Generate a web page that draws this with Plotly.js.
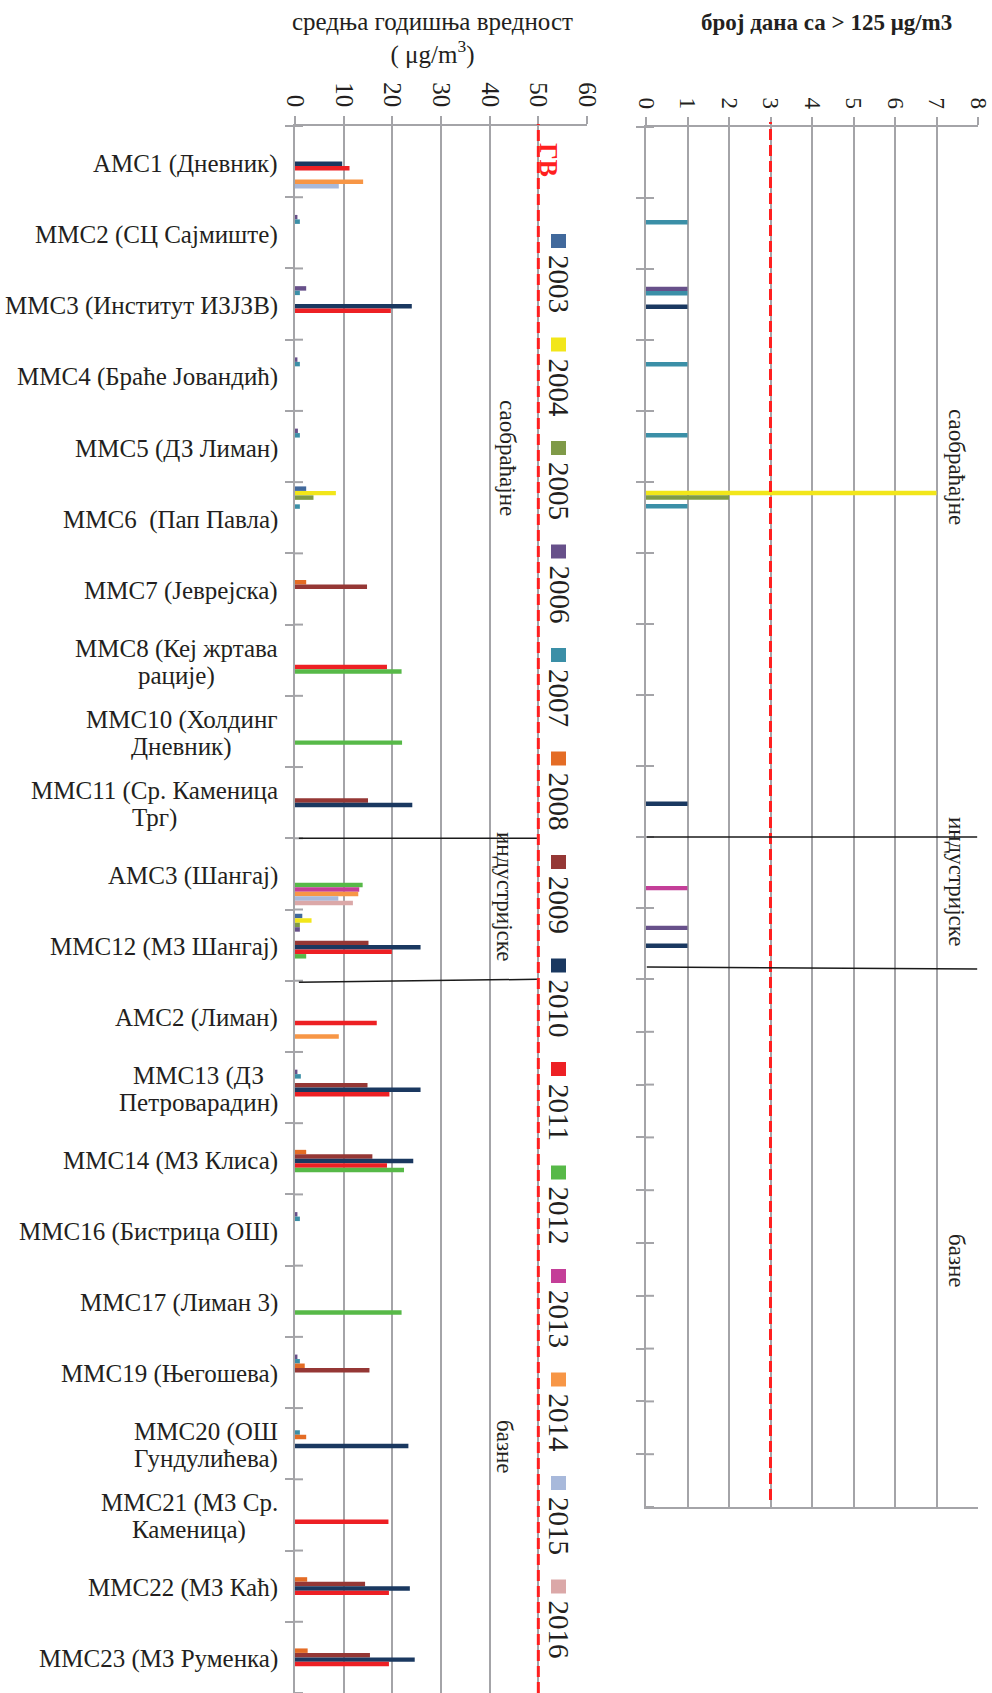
<!DOCTYPE html>
<html><head><meta charset="utf-8">
<script src="https://cdn.plot.ly/plotly-3.0.1.min.js"></script>
<style>html,body{margin:0;padding:0;background:#fff}#chart{width:992px;height:1693px}</style>
</head><body><div id="chart"></div>
<script>
// ---------------- DATA ----------------
const N = null;
const stations = [
  'АМС1 (Дневник)', 'ММС2 (СЦ Сајмиште)', 'ММС3 (Институт ИЗЈЗВ)', 'ММС4 (Браће Јовандић)',
  'ММС5 (ДЗ Лиман)', 'ММС6  (Пап Павла)', 'ММС7 (Јеврејска)', 'ММС8 (Кеј жртава<br>рације)',
  'ММС10 (Холдинг<br>Дневник)', 'ММС11 (Ср. Каменица<br>Трг)', 'АМС3 (Шангај)', 'ММС12 (МЗ Шангај)',
  'АМС2 (Лиман)', 'ММС13 (ДЗ<br>Петроварадин)', 'ММС14 (МЗ Клиса)', 'ММС16 (Бистрица ОШ)',
  'ММС17 (Лиман 3)', 'ММС19 (Његошева)', 'ММС20 (ОШ<br>Гундулићева)', 'ММС21 (МЗ Ср.<br>Каменица)',
  'ММС22 (МЗ Каћ)', 'ММС23 (МЗ Руменка)'
];
const sectionNames = ['саобраћајне', 'индустријске', 'базне'];
const sectionSizes = [10, 2, 10];
const years = ['2003','2004','2005','2006','2007','2008','2009','2010','2011','2012','2013','2014','2015','2016'];
const colors = ['#41699c','#f2e61a','#7f9a48','#67508a','#3b8fa7','#e46c25','#953735',
                '#1a3860','#ed2024','#57b948','#c43e98','#f79646','#a8b9db','#dba8a8'];
const gvMean = 50;   // гранична вредност, μg/m3
const gvDays = 3;    // дозвољен број дана > 125 μg/m3

// средња годишња вредност (μg/m3), по станицама
const mean2003 = [N,N,N,N,N,2.3,N,N,N,N,N,1.5, N,N,N,N,N,N,N,N,N,N];
const mean2004 = [N,N,N,N,N,8.4,N,N,N,N,N,3.4, N,N,N,N,N,N,N,N,N,N];
const mean2005 = [N,N,N,N,N,3.8,N,N,N,N,N,1.0, N,N,N,N,N,N,N,N,N,N];
const mean2006 = [N,0.5,2.3,0.5,0.6,N,N,N,N,N,N,1.0, N,0.5,N,0.5,N,0.5,N,N,N,N];
const mean2007 = [N,1.0,1.0,1.0,1.0,1.0,N,N,N,N,N,N, N,1.2,N,1.0,N,1.0,1.0,N,N,N];
const mean2008 = [N,N,N,N,N,N,2.3,N,N,N,N,N, N,N,2.3,N,N,2.0,2.3,N,2.5,2.6];
const mean2009 = [N,N,N,N,N,N,14.8,N,N,15.0,N,15.1, N,14.9,15.9,N,N,15.3,N,N,14.4,15.4];
const mean2010 = [9.7,N,24.0,N,N,N,N,N,N,24.1,N,25.8, N,25.8,24.3,N,N,N,23.3,N,23.6,24.6];
const mean2011 = [11.2,N,19.7,N,N,N,N,18.9,N,N,N,19.9, 16.8,19.4,18.9,N,N,N,N,19.2,19.3,19.3];
const mean2012 = [N,N,N,N,N,N,N,21.9,22.0,N,13.9,2.3, N,N,22.4,N,21.9,N,N,N,N,N];
const mean2013 = [N,N,N,N,N,N,N,N,N,N,13.2,N, N,N,N,N,N,N,N,N,N,N];
const mean2014 = [14.0,N,N,N,N,N,N,N,N,N,13.0,N, 9.0,N,N,N,N,N,N,N,N,N];
const mean2015 = [9.0,N,N,N,N,N,N,N,N,N,8.9,N, N,N,N,N,N,N,N,N,N,N];
const mean2016 = [N,N,N,N,N,N,N,N,N,N,11.9,N, N,N,N,N,N,N,N,N,N,N];

// број дана са > 125 μg/m3, по станицама
const days2003 = [0,0,0,0,0,0,0,0,0,0,0,0, 0,0,0,0,0,0,0,0,0,0];
const days2004 = [0,0,0,0,0,7,0,0,0,0,0,0, 0,0,0,0,0,0,0,0,0,0];
const days2005 = [0,0,0,0,0,2,0,0,0,0,0,0, 0,0,0,0,0,0,0,0,0,0];
const days2006 = [0,0,1,0,0,0,0,0,0,0,0,1, 0,0,0,0,0,0,0,0,0,0];
const days2007 = [0,1,1,1,1,1,0,0,0,0,0,0, 0,0,0,0,0,0,0,0,0,0];
const days2008 = [0,0,0,0,0,0,0,0,0,0,0,0, 0,0,0,0,0,0,0,0,0,0];
const days2009 = [0,0,0,0,0,0,0,0,0,0,0,0, 0,0,0,0,0,0,0,0,0,0];
const days2010 = [0,0,1,0,0,0,0,0,0,1,0,1, 0,0,0,0,0,0,0,0,0,0];
const days2011 = [0,0,0,0,0,0,0,0,0,0,0,0, 0,0,0,0,0,0,0,0,0,0];
const days2012 = [0,0,0,0,0,0,0,0,0,0,0,0, 0,0,0,0,0,0,0,0,0,0];
const days2013 = [0,0,0,0,0,0,0,0,0,0,1,0, 0,0,0,0,0,0,0,0,0,0];
const days2014 = [0,0,0,0,0,0,0,0,0,0,0,0, 0,0,0,0,0,0,0,0,0,0];
const days2015 = [0,0,0,0,0,0,0,0,0,0,0,0, 0,0,0,0,0,0,0,0,0,0];
const days2016 = [0,0,0,0,0,0,0,0,0,0,0,0, 0,0,0,0,0,0,0,0,0,0];

const meanByYear = [mean2003,mean2004,mean2005,mean2006,mean2007,mean2008,mean2009,
                    mean2010,mean2011,mean2012,mean2013,mean2014,mean2015,mean2016];
const daysByYear = [days2003,days2004,days2005,days2006,days2007,days2008,days2009,
                    days2010,days2011,days2012,days2013,days2014,days2015,days2016];

// ---------------- LAYOUT HELPERS ----------------
const W = 992, H = 1693;
const px = x => x / W;
const py = y => 1 - y / H;
const FONT = 'Liberation Serif, Times New Roman, serif';
const GRAY = '#a4a4a8';
const INK = '#231f20';
const nTop = sectionSizes[0] + sectionSizes[1];
const topStations = stations.slice(0, nTop);
const baseStations = stations.slice(nTop);

// ---------------- TRACES ----------------
const traces = [];
years.forEach((yr, i) => {
  traces.push({type:'bar', orientation:'h', name:yr, x:meanByYear[i], y:stations,
    xaxis:'x', yaxis:'y', marker:{color:colors[i], line:{width:0}}, showlegend:false});
  traces.push({type:'bar', orientation:'h', name:yr, x:daysByYear[i].slice(0, nTop), y:topStations,
    xaxis:'x2', yaxis:'y2', marker:{color:colors[i], line:{width:0}}, showlegend:false});
  traces.push({type:'bar', orientation:'h', name:yr, x:daysByYear[i].slice(nTop), y:baseStations,
    xaxis:'x3', yaxis:'y3', marker:{color:colors[i], line:{width:0}}, showlegend:false});
});

const xCommon = {showgrid:true, gridcolor:GRAY, gridwidth:2, showline:true, linecolor:GRAY, linewidth:2,
  ticks:'outside', ticklen:8, tickwidth:2, tickcolor:GRAY, tickangle:90, zeroline:false,
  tickfont:{family:FONT, size:25, color:INK}, fixedrange:true};
const yCommon = {type:'category', categoryorder:'array', tickson:'boundaries', ticks:'outside', ticklen:8,
  tickwidth:2, tickcolor:GRAY, showticklabels:false, showline:true, linecolor:GRAY, linewidth:2,
  showgrid:false, zeroline:false, fixedrange:true};

const layout = {
  width: W, height: H, margin:{l:0, r:0, t:0, b:0}, paper_bgcolor:'#fff', plot_bgcolor:'rgba(0,0,0,0)',
  barmode:'group', bargap:0.12, bargroupgap:0, showlegend:false,
  font:{family:FONT, color:INK},
  xaxis: Object.assign({}, xCommon, {domain:[px(295), px(587)], range:[0, 60], dtick:10, side:'top', anchor:'y'}),
  yaxis: Object.assign({}, yCommon, {domain:[0, py(126)], categoryarray:stations,
    range:[stations.length - 0.5, -0.5], anchor:'x'}),
  xaxis2: Object.assign({}, xCommon, {domain:[px(646), px(978)], range:[0, 8], dtick:1, side:'top', anchor:'y2',
    tickfont:{family:FONT, size:23, color:INK}}),
  yaxis2: Object.assign({}, yCommon, {domain:[py(979), py(127)], categoryarray:topStations,
    range:[topStations.length - 0.5, -0.5], anchor:'x2'}),
  xaxis3: Object.assign({}, xCommon, {domain:[px(646), px(978)], range:[0, 8], dtick:1, side:'bottom', anchor:'y3',
    ticks:'', showticklabels:false}),
  yaxis3: Object.assign({}, yCommon, {domain:[py(1507), py(979)], categoryarray:baseStations,
    range:[baseStations.length - 0.5, -0.5], anchor:'x3'}),
  shapes: [], annotations: []
};

// inner half of the crossing category ticks
const tickIn = (yref, n, xStart) => {
  for (let k = 0; k <= n; k++) {
    layout.shapes.push({type:'line', xref:'paper', yref:yref, x0:px(xStart), x1:px(xStart + 8),
      y0:k - 0.5, y1:k - 0.5, line:{color:GRAY, width:2}, layer:'below'});
  }
};
tickIn('y', stations.length, 295);
tickIn('y2', topStations.length, 646);
tickIn('y3', baseStations.length, 646);

// гранична вредност (limit lines)
layout.shapes.push({type:'line', xref:'x', yref:'paper', x0:gvMean, x1:gvMean, y0:0, y1:py(124),
  line:{color:'#ff1f1f', width:3, dash:'11px,5px'}});
layout.shapes.push({type:'line', xref:'x2', yref:'paper', x0:gvDays, x1:gvDays, y0:py(1500), y1:py(122),
  line:{color:'#ff1f1f', width:3, dash:'11px,5px'}});

// section separator lines
const b1 = sectionSizes[0] - 0.5;
const b2 = sectionSizes[0] + sectionSizes[1] - 0.5;
layout.shapes.push({type:'line', xref:'x', yref:'y', x0:0.8, x1:49.7, y0:b1, y1:b1, line:{color:'#1a1a1a', width:1.5}});
layout.shapes.push({type:'line', xref:'x', yref:'y', x0:0.8, x1:49.7, y0:b2 + 0.02, y1:b2 - 0.02, line:{color:'#1a1a1a', width:1.5}});
layout.shapes.push({type:'line', xref:'x2', yref:'y2', x0:0.02, x1:7.98, y0:b1, y1:b1, line:{color:'#1a1a1a', width:1.5}});
layout.shapes.push({type:'line', xref:'x2', yref:'y2', x0:0.02, x1:7.98, y0:b2 - 0.17, y1:b2 - 0.14, line:{color:'#1a1a1a', width:1.5}});

// station labels: right-aligned block, lines centred within it (tight line spacing)
const LABEL_SIZE = 25, LINE_H = 27;
const ctx = document.createElement('canvas').getContext('2d');
ctx.font = LABEL_SIZE + 'px "Liberation Serif"';
stations.forEach(s => {
  const lines = s.split('<br>');
  const widths = lines.map(l => ctx.measureText(l).width);
  const wMax = Math.max.apply(null, widths);
  lines.forEach((l, k) => {
    layout.annotations.push({text:l, xref:'paper', yref:'y', x:px(280), y:s, xanchor:'right', yanchor:'middle',
      xshift:-(wMax - widths[k]) / 2, yshift:((lines.length - 1) / 2 - k) * LINE_H - 2,
      showarrow:false, font:{family:FONT, size:LABEL_SIZE, color:INK}});
  });
});

// section labels (rotated)
const secPosL = [[507, 458], [505, 897], [505, 1447]];
const secPosR = [[957, 467], [956, 882], [957, 1261]];
sectionNames.forEach((n, i) => {
  [secPosL[i], secPosR[i]].forEach(p => {
    layout.annotations.push({text:n, xref:'paper', yref:'paper', x:px(p[0]), y:py(p[1]), textangle:90,
      xanchor:'center', yanchor:'middle', showarrow:false, font:{family:FONT, size:23, color:INK}});
  });
});

// legend (rotated, built manually)
years.forEach((yr, i) => {
  const top = 234 + i * 103.5;
  layout.shapes.push({type:'rect', xref:'paper', yref:'paper', x0:px(551), x1:px(566), y0:py(top + 14), y1:py(top),
    fillcolor:colors[i], line:{width:0}});
  layout.annotations.push({text:yr, xref:'paper', yref:'paper', x:px(559), y:py(top + 50), textangle:90,
    xanchor:'center', yanchor:'middle', showarrow:false, font:{family:FONT, size:29, color:INK}});
});

// ГВ label
layout.annotations.push({text:'<b>ГВ</b>', xref:'paper', yref:'paper', x:px(549), y:py(160), textangle:90,
  xanchor:'center', yanchor:'middle', showarrow:false, font:{family:FONT, size:26, color:'#ff1f1f'}});

// titles
layout.annotations.push({text:'средња годишња вредност<br>( μg/m<sup>3</sup>)', xref:'paper', yref:'paper',
  x:px(432), y:py(6), xanchor:'center', yanchor:'top', align:'center', showarrow:false,
  font:{family:FONT, size:25, color:INK}});
layout.annotations.push({text:'<b>број дана са &gt; 125 μg/m3</b>', xref:'paper', yref:'paper',
  x:px(826), y:py(22), xanchor:'center', yanchor:'middle', showarrow:false,
  font:{family:FONT, size:23, color:INK}});

Plotly.newPlot('chart', traces, layout, {staticPlot:true, displayModeBar:false});
</script></body></html>
